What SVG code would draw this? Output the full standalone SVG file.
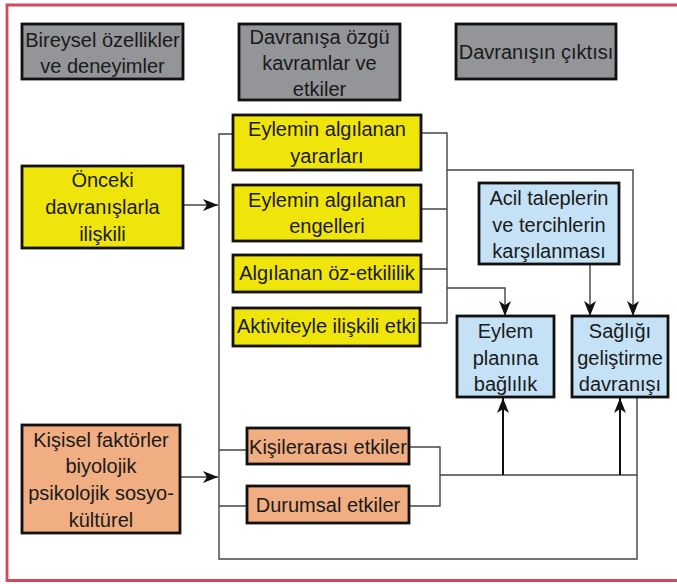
<svg xmlns="http://www.w3.org/2000/svg" width="677" height="584" viewBox="0 0 677 584">
<style>
  .box{stroke:#111;stroke-width:2.8}
  .gray{fill:#939598}
  .yel{fill:#efe50a}
  .org{fill:#f0ae82}
  .blu{fill:#c5e1f5}
  text{font-family:"Liberation Sans",Arial,sans-serif;font-size:20px;fill:#1a1a1a;text-anchor:middle}
  .ln{fill:none;stroke:#444;stroke-width:1.4}
  .up{fill:none;stroke:#111;stroke-width:2}
</style>
<defs>
  <marker id="ah" viewBox="0 0 15 12" markerWidth="15" markerHeight="12" refX="15" refY="6" orient="auto" markerUnits="userSpaceOnUse">
    <path d="M0,0 L15,6 L0,12 L4,6 z" fill="#111"/>
  </marker>
</defs>
<rect width="677" height="584" fill="#fff"/>
<path d="M680,5 H7 V580.5 H680" fill="none" stroke="#d2495e" stroke-width="2.8"/>

<g id="connectors">
  <path class="ln" d="M183,205 H218" marker-end="url(#ah)"/>
  <path class="ln" d="M180,477 H218" marker-end="url(#ah)"/>
  <path class="ln" d="M233,134 H219 V559 H637 V397"/>
  <path class="ln" d="M219,450 H247 M219,506 H247"/>
  <path class="ln" d="M421,133 H447 V323 H421 M421,209 H447 M421,269 H447"/>
  <path class="ln" d="M447,170 H633 V316" marker-end="url(#ah)"/>
  <path class="ln" d="M447,288 H505 V316" marker-end="url(#ah)"/>
  <path class="ln" d="M590,264 V316" marker-end="url(#ah)"/>
  <path class="ln" d="M409,447 H440 V506 H409 M440,475 H637"/>
  <path class="up" d="M503,475 V398" marker-end="url(#ah)"/>
  <path class="up" d="M620,475 V398" marker-end="url(#ah)"/>
</g>

<g id="n-bireysel">
  <rect class="box gray" x="22" y="24" width="161" height="55"/>
  <text x="102.5" y="47">Bireysel özellikler</text>
  <text x="102.5" y="73">ve deneyimler</text>
</g>
<g id="n-davranisa">
  <rect class="box gray" x="239" y="24" width="161" height="76"/>
  <text x="319.5" y="44">Davranışa özgü</text>
  <text x="319.5" y="70">kavramlar ve</text>
  <text x="319.5" y="96">etkiler</text>
</g>
<g id="n-cikti">
  <rect class="box gray" x="456" y="24" width="160" height="55"/>
  <text x="536" y="59">Davranışın çıktısı</text>
</g>

<g id="n-onceki">
  <rect class="box yel" x="22" y="166" width="161" height="82"/>
  <text x="102.5" y="187">Önceki</text>
  <text x="102.5" y="214">davranışlarla</text>
  <text x="102.5" y="241">ilişkili</text>
</g>
<g id="n-yarar">
  <rect class="box yel" x="233" y="115" width="188" height="55"/>
  <text x="327" y="136">Eylemin algılanan</text>
  <text x="327" y="163">yararları</text>
</g>
<g id="n-engel">
  <rect class="box yel" x="233" y="185" width="188" height="56"/>
  <text x="327" y="207">Eylemin algılanan</text>
  <text x="327" y="233">engelleri</text>
</g>
<g id="n-ozetkililik">
  <rect class="box yel" x="233" y="255" width="188" height="37"/>
  <text x="327" y="280">Algılanan öz-etkililik</text>
</g>
<g id="n-aktivite">
  <rect class="box yel" x="233" y="308" width="187" height="38"/>
  <text x="326.5" y="333">Aktiviteyle ilişkili etki</text>
</g>

<g id="n-acil">
  <rect class="box blu" x="479" y="183" width="140" height="81"/>
  <text x="549" y="205">Acil taleplerin</text>
  <text x="549" y="232">ve tercihlerin</text>
  <text x="549" y="258">karşılanması</text>
</g>
<g id="n-eylemplani">
  <rect class="box blu" x="457" y="316" width="97" height="81"/>
  <text x="505.5" y="338">Eylem</text>
  <text x="505.5" y="365">planına</text>
  <text x="505.5" y="391">bağlılık</text>
</g>
<g id="n-saglik">
  <rect class="box blu" x="572" y="316" width="96" height="81"/>
  <text x="620" y="338">Sağlığı</text>
  <text x="620" y="365">geliştirme</text>
  <text x="620" y="391">davranışı</text>
</g>

<g id="n-kisisel">
  <rect class="box org" x="22" y="425" width="158" height="108"/>
  <text x="101" y="447">Kişisel faktörler</text>
  <text x="101" y="473">biyolojik</text>
  <text x="101" y="500">psikolojik sosyo-</text>
  <text x="101" y="527">kültürel</text>
</g>
<g id="n-kisilerarasi">
  <rect class="box org" x="247" y="428" width="162" height="36"/>
  <text x="328" y="454">Kişilerarası etkiler</text>
</g>
<g id="n-durumsal">
  <rect class="box org" x="247" y="486" width="162" height="37"/>
  <text x="328" y="512">Durumsal etkiler</text>
</g>
</svg>
